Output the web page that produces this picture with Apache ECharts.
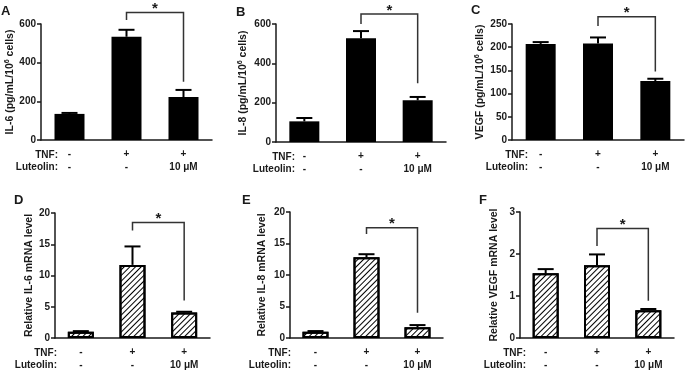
<!DOCTYPE html>
<html>
<head>
<meta charset="utf-8">
<script src="https://cdn.jsdelivr.net/npm/echarts@6/dist/echarts.min.js"></script>
<style>
  html, body { margin: 0; padding: 0; background: #fff; }
  #chart { width: 686px; height: 372px; }
</style>
</head>
<body>
<div id="chart"></div>
<script>
  // groups on the x axis
  const groups = ['Control', 'TNF', 'TNF + Luteolin'];
  const tnfRow = ['-', '+', '+'];
  const luteolinRow = ['-', '-', '10 μM'];

  // protein (ELISA), mean and SEM
  const il6Protein = [135, 534, 222];
  const il6ProteinErr = [5, 36, 37];
  const il8Protein = [105, 527, 212];
  const il8ProteinErr = [17, 37, 17];
  const vegfProtein = [207, 208, 127];
  const vegfProteinErr = [4, 13, 5];

  // relative mRNA, mean and SEM
  const il6Mrna = [1.0, 11.7, 4.1];
  const il6MrnaErr = [0.1, 2.95, 0.1];
  const il8Mrna = [1.0, 12.8, 1.7];
  const il8MrnaErr = [0.1, 0.5, 0.35];
  const vegfMrna = [1.54, 1.73, 0.66];
  const vegfMrnaErr = [0.1, 0.26, 0.03];

  // significance brackets: [from, to, top, left foot, right foot]
  const sigA = [1, 2, 660, 621, 301];
  const sigB = [1, 2, 651, 600, 299];
  const sigC = [1, 2, 265.7, 245.7, 147.5];
  const sigD = [1, 2, 18.5, 17.2, 6.0];
  const sigE = [1, 2, 17.5, 16.5, 4.0];
  const sigF = [1, 2, 2.61, 2.19, 0.886];

  const FONT = '"Liberation Sans", Arial, sans-serif';
  const INK = '#1a1a1a';

  const panels = [
    { letter: 'A', lx: 6, ly: 12, name: '{t|IL-6 (pg/mL/10}{s|6}{t| cells)}', gap: 24,
      mean: il6Protein, err: il6ProteinErr, max: 600, interval: 200, sig: sigA,
      grid: { left: 41, top: 24, width: 171, height: 116 }, barW: 30, hatch: false, rowX: 58 },
    { letter: 'B', lx: 241, ly: 13, name: '{t|IL-8 (pg/mL/10}{s|6}{t| cells)}', gap: 26,
      mean: il8Protein, err: il8ProteinErr, max: 600, interval: 200, sig: sigB,
      grid: { left: 276, top: 24, width: 170, height: 118 }, barW: 30, hatch: false, rowX: 295 },
    { letter: 'C', lx: 476, ly: 11, name: '{t|VEGF (pg/mL/10}{s|6}{t| cells)}', gap: 25,
      mean: vegfProtein, err: vegfProteinErr, max: 250, interval: 50, sig: sigC,
      grid: { left: 512, top: 24, width: 172, height: 116 }, barW: 30, hatch: false, rowX: 528 },
    { letter: 'D', lx: 19, ly: 201, name: 'Relative IL-6 mRNA level', gap: 18,
      mean: il6Mrna, err: il6MrnaErr, max: 20, interval: 5, sig: sigD,
      grid: { left: 55, top: 213, width: 155, height: 125 }, barW: 26, hatch: true, rowX: 57 },
    { letter: 'E', lx: 247, ly: 201, name: 'Relative IL-8 mRNA level', gap: 22,
      mean: il8Mrna, err: il8MrnaErr, max: 20, interval: 5, sig: sigE,
      grid: { left: 290, top: 212, width: 153, height: 126 }, barW: 26, hatch: true, rowX: 291 },
    { letter: 'F', lx: 484, ly: 201, name: 'Relative VEGF mRNA level', gap: 20,
      mean: vegfMrna, err: vegfMrnaErr, max: 3, interval: 1, sig: sigF,
      grid: { left: 520, top: 212, width: 154, height: 126 }, barW: 26, hatch: true, rowX: 526 }
  ];

  const grids = [], xAxes = [], yAxes = [], series = [], graphics = [];

  panels.forEach(function (p, k) {
    grids.push(p.grid);
    xAxes.push({
      type: 'category', gridIndex: k, data: groups,
      axisLine: { lineStyle: { color: INK, width: 1.5 } },
      axisTick: { alignWithLabel: true, length: 4, lineStyle: { color: INK, width: 1.5 } },
      axisLabel: {
        margin: 8, interval: 0, fontFamily: FONT, fontWeight: 'bold', fontSize: 10,
        color: INK, lineHeight: 12.5,
        formatter: function (v, i) { return tnfRow[i] + '\n' + luteolinRow[i]; }
      }
    });
    yAxes.push({
      type: 'value', gridIndex: k, min: 0, max: p.max, interval: p.interval,
      name: p.name, nameLocation: 'middle', nameGap: p.gap,
      nameTextStyle: {
        fontFamily: FONT, fontWeight: 'bold', fontSize: 10.5, color: INK,
        rich: {
          t: { fontFamily: FONT, fontWeight: 'bold', fontSize: 10.5, color: INK },
          s: { fontFamily: FONT, fontWeight: 'bold', fontSize: 7, color: INK, padding: [0, 0, 6, 0] }
        }
      },
      splitLine: { show: false },
      axisLine: { show: true, lineStyle: { color: INK, width: 1.5 } },
      axisTick: { show: true, length: 4, lineStyle: { color: INK, width: 1.5 } },
      axisLabel: { margin: 5, fontFamily: FONT, fontWeight: 'bold', fontSize: 10, color: INK }
    });

    const itemStyle = p.hatch ? {
      color: '#fff', borderColor: '#000', borderWidth: 2,
      decal: {
        symbol: 'rect', symbolSize: 1, color: '#000',
        dashArrayX: [1, 0], dashArrayY: [1, 2.6], rotation: -Math.PI / 4
      }
    } : { color: '#000' };

    series.push({
      type: 'bar', xAxisIndex: k, yAxisIndex: k, barWidth: p.barW,
      data: p.mean, itemStyle: itemStyle, silent: true, animation: false
    });

    // error bars (upper side only)
    series.push({
      type: 'custom', xAxisIndex: k, yAxisIndex: k, clip: false, animation: false, silent: true, z: 5,
      data: p.mean.map(function (m, i) { return [i, m, m + p.err[i]]; }),
      renderItem: function (params, api) {
        const lo = api.coord([api.value(0), api.value(1)]);
        const hi = api.coord([api.value(0), api.value(2)]);
        const half = 8;
        const st = { stroke: '#000', lineWidth: 2 };
        return {
          type: 'group',
          children: [
            { type: 'line', shape: { x1: lo[0], y1: lo[1], x2: hi[0], y2: hi[1] }, style: st },
            { type: 'line', shape: { x1: hi[0] - half, y1: hi[1], x2: hi[0] + half, y2: hi[1] }, style: st }
          ]
        };
      }
    });

    // significance bracket with star
    series.push({
      type: 'custom', xAxisIndex: k, yAxisIndex: k, clip: false, animation: false, silent: true, z: 6,
      data: [p.sig],
      renderItem: function (params, api) {
        const a = api.value(0), b = api.value(1);
        const top = api.value(2), lf = api.value(3), rf = api.value(4);
        const p1 = api.coord([a, lf]), p2 = api.coord([a, top]);
        const p3 = api.coord([b, top]), p4 = api.coord([b, rf]);
        return {
          type: 'group',
          children: [
            { type: 'polyline', shape: { points: [p1, p2, p3, p4] },
              style: { stroke: '#333', lineWidth: 1.5, fill: null } },
            { type: 'text', x: (p2[0] + p3[0]) / 2, y: p2[1] + 4,
              style: { text: '*', fontFamily: FONT, fontWeight: 'bold', fontSize: 15, fill: INK,
                       align: 'center', verticalAlign: 'bottom' } }
          ]
        };
      }
    });

    const axisY = p.grid.top + p.grid.height;
    graphics.push({
      type: 'text', left: p.lx - 5, top: p.ly - 7,
      style: { text: p.letter, fontFamily: FONT, fontWeight: 'bold', fontSize: 13, fill: INK }
    });
    graphics.push({
      type: 'text', x: p.rowX, y: axisY + 15,
      style: { text: 'TNF:', fontFamily: FONT, fontWeight: 'bold', fontSize: 10, fill: INK,
               align: 'right', verticalAlign: 'middle' }
    });
    graphics.push({
      type: 'text', x: p.rowX, y: axisY + 27,
      style: { text: 'Luteolin:', fontFamily: FONT, fontWeight: 'bold', fontSize: 10, fill: INK,
               align: 'right', verticalAlign: 'middle' }
    });
  });

  const chart = echarts.init(document.getElementById('chart'));
  chart.setOption({
    animation: false,
    backgroundColor: '#fff',
    grid: grids,
    xAxis: xAxes,
    yAxis: yAxes,
    series: series,
    graphic: graphics
  });
</script>
</body>
</html>
